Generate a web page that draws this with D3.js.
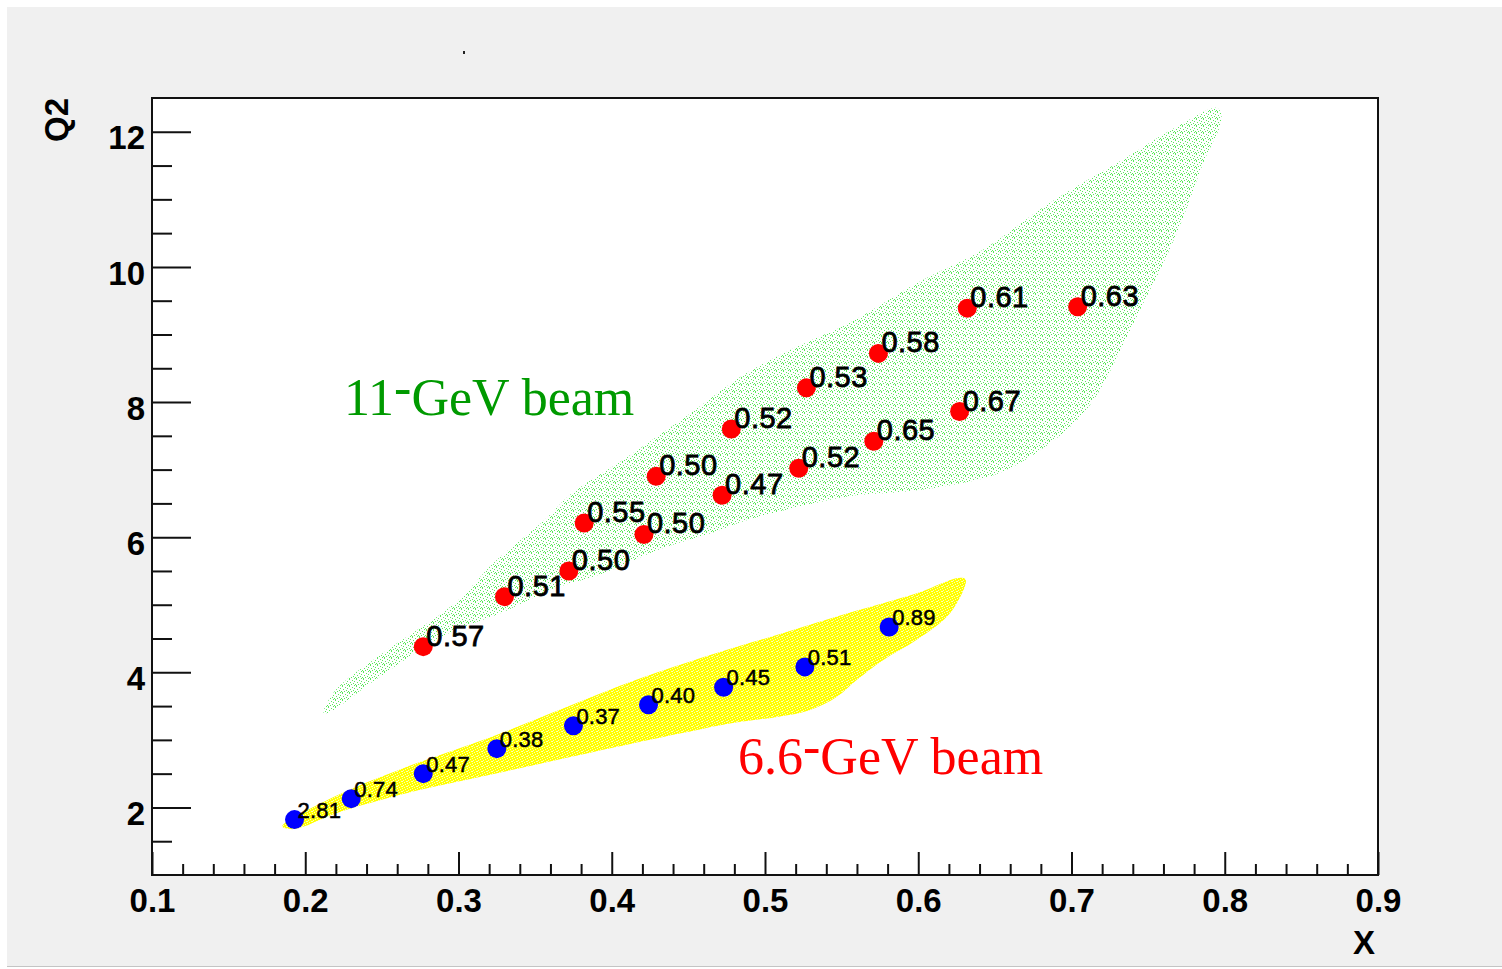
<!DOCTYPE html>
<html>
<head>
<meta charset="utf-8">
<script src="https://d3js.org/d3.v7.min.js"></script>
<style>
  body { margin: 0; background: #fff; }
  .tick text { font-family: "Liberation Sans", Arial, sans-serif; font-weight: bold; font-size: 33px; fill: #000; }
  .tick line { stroke: #111; stroke-width: 2; }
  .axisTitle { font-family: "Liberation Sans", Arial, sans-serif; font-weight: bold; font-size: 33px; fill: #000; }
  .pointLabel { font-family: "Liberation Sans", Arial, sans-serif; fill: #000; stroke: #000; stroke-width: 0.8; letter-spacing: 0.5px; }
  .beamText { font-family: "Liberation Serif", "DejaVu Serif", serif; font-size: 52px; }
</style>
</head>
<body>
<div class="chart"></div>
<script>
// 11 GeV points (red) with their labels
var redX = [0.277, 0.330, 0.372, 0.382, 0.421, 0.429, 0.472, 0.478, 0.522, 0.527, 0.571, 0.574, 0.627, 0.632, 0.704];
var redQ2 = [4.38, 5.12, 5.50, 6.21, 6.04, 6.90, 6.62, 7.60, 7.02, 8.21, 7.42, 8.72, 7.86, 9.39, 9.41];
var redLabels = ["0.57", "0.51", "0.50", "0.55", "0.50", "0.50", "0.47", "0.52", "0.52", "0.53", "0.65", "0.58", "0.67", "0.61", "0.63"];

// 6.6 GeV points (blue) with their labels
var blueX = [0.193, 0.230, 0.277, 0.325, 0.375, 0.424, 0.473, 0.526, 0.581];
var blueQ2 = [1.82, 2.13, 2.50, 2.87, 3.21, 3.52, 3.78, 4.08, 4.67];
var blueLabels = ["2.81", "0.74", "0.47", "0.38", "0.37", "0.40", "0.45", "0.51", "0.89"];

// outline of the 11 GeV acceptance (green cloud)
var greenX = [0.212, 0.220, 0.251, 0.298, 0.323, 0.356, 0.374, 0.407, 0.448, 0.488, 0.523, 0.555, 0.599, 0.642, 0.686, 0.730, 0.773, 0.795,
  0.798, 0.786, 0.773, 0.760, 0.747, 0.734, 0.721, 0.708, 0.686, 0.653, 0.621, 0.588, 0.559,
  0.522, 0.488, 0.465, 0.430, 0.395, 0.360, 0.328, 0.291, 0.244, 0.216];
var greenQ2 = [3.40, 3.74, 4.29, 5.03, 5.62, 6.25, 6.65, 7.14, 7.78, 8.43, 8.84, 9.17, 9.76, 10.25, 10.95, 11.54, 12.13, 12.35,
  12.20, 11.54, 10.74, 10.06, 9.47, 8.87, 8.28, 7.84, 7.39, 6.95, 6.77, 6.67, 6.62,
  6.45, 6.25, 6.06, 5.81, 5.47, 5.22, 4.88, 4.55, 3.86, 3.41];

// outline of the 6.6 GeV acceptance (yellow cloud)
var yellowX = [0.185, 0.221, 0.266, 0.321, 0.371, 0.416, 0.469, 0.512, 0.555, 0.599, 0.627,
  0.631, 0.621, 0.599, 0.577, 0.560, 0.547, 0.529, 0.508, 0.479, 0.446, 0.386, 0.326, 0.266, 0.221, 0.193];
var yellowQ2 = [1.72, 2.18, 2.60, 3.04, 3.49, 3.89, 4.29, 4.58, 4.88, 5.17, 5.40,
  5.37, 4.88, 4.48, 4.18, 3.89, 3.64, 3.44, 3.34, 3.25, 3.10, 2.81, 2.51, 2.21, 1.92, 1.68];

var xTicks = [0.1, 0.2, 0.3, 0.4, 0.5, 0.6, 0.7, 0.8, 0.9];
var xTickLabels = ["0.1", "0.2", "0.3", "0.4", "0.5", "0.6", "0.7", "0.8", "0.9"];
var yTicks = [2, 4, 6, 8, 10, 12];
var yTickLabels = ["2", "4", "6", "8", "10", "12"];

var svgWidth = 1502;
var svgHeight = 969;
var margin = { top: 98, right: 124, bottom: 94, left: 152 };
var width = svgWidth - margin.left - margin.right;
var height = svgHeight - margin.top - margin.bottom;

var root = d3.select(".chart")
  .append("svg")
  .attr("width", svgWidth)
  .attr("height", svgHeight)
  .style("display", "block");

// grey canvas like the ROOT window
root.append("rect")
  .attr("x", 7).attr("y", 7)
  .attr("width", svgWidth - 7).attr("height", 959)
  .attr("fill", "#f0f0f0");
root.append("line")
  .attr("x1", 7).attr("x2", svgWidth)
  .attr("y1", 966.5).attr("y2", 966.5)
  .attr("stroke", "#c4c4c4").attr("stroke-width", 1);
// stray mark of the empty title
root.append("rect")
  .attr("x", 463).attr("y", 51).attr("width", 2).attr("height", 3)
  .attr("fill", "#222");

// speckle patterns for the two acceptance clouds
var defs = root.append("defs");
var gp = defs.append("pattern")
  .attr("id", "greenDots")
  .attr("patternUnits", "userSpaceOnUse")
  .attr("width", 7).attr("height", 7);
[[1, 0], [4, 1], [6, 2], [2, 3], [5, 4], [0, 5], [3, 5], [6, 6], [1, 6]].forEach(function(p) {
  gp.append("rect").attr("x", p[0]).attr("y", p[1]).attr("width", 1).attr("height", 1).attr("fill", "#5ae85a");
});
var yp = defs.append("pattern")
  .attr("id", "yellowDots")
  .attr("patternUnits", "userSpaceOnUse")
  .attr("width", 5).attr("height", 5);
yp.append("rect").attr("width", 5).attr("height", 5).attr("fill", "#ffff00");
[[0, 0], [3, 1], [1, 2], [4, 3], [2, 4], [0, 3]].forEach(function(p) {
  yp.append("rect").attr("x", p[0]).attr("y", p[1]).attr("width", 1).attr("height", 1).attr("fill", "#ffffb0");
});

var svg = root.append("g")
  .attr("transform", "translate(" + margin.left + "," + margin.top + ")");

// plot area
svg.append("rect")
  .attr("width", width)
  .attr("height", height)
  .attr("fill", "#fff");

var xLinearScale = d3.scaleLinear().domain([0.1, 0.9]).range([0, width]);
var yLinearScale = d3.scaleLinear().domain([1, 12.5]).range([height, 0]);

var outline = d3.line()
  .x(function(d) { return xLinearScale(d[0]); })
  .y(function(d) { return yLinearScale(d[1]); })
  .curve(d3.curveCatmullRomClosed);

svg.append("path")
  .datum(greenX.map(function(x, i) { return [x, greenQ2[i]]; }))
  .attr("d", outline)
  .attr("fill", "url(#greenDots)");

svg.append("path")
  .datum(yellowX.map(function(x, i) { return [x, yellowQ2[i]]; }))
  .attr("d", outline)
  .attr("fill", "url(#yellowDots)");

// minor ticks
var xMinor = d3.range(0.12, 0.9, 0.02).filter(function(v) { return Math.abs(v * 10 - Math.round(v * 10)) > 0.01; });
var yMinor = d3.range(1.5, 12.5, 0.5).filter(function(v) { return v % 2 !== 0; });

svg.append("g")
  .attr("transform", "translate(0," + height + ")")
  .call(d3.axisBottom(xLinearScale).tickValues(xMinor).tickSize(-11).tickFormat(""))
  .call(function(g) { g.select(".domain").remove(); });

svg.append("g")
  .call(d3.axisLeft(yLinearScale).tickValues(yMinor).tickSize(-20).tickFormat(""))
  .call(function(g) { g.select(".domain").remove(); });

// major ticks + labels
var bottomAxis = d3.axisBottom(xLinearScale)
  .tickValues(xTicks)
  .tickSize(-23)
  .tickFormat(function(d, i) { return xTickLabels[i]; });
var leftAxis = d3.axisLeft(yLinearScale)
  .tickValues(yTicks)
  .tickSize(-39)
  .tickPadding(7)
  .tickFormat(function(d, i) { return yTickLabels[i]; });

svg.append("g")
  .attr("transform", "translate(0," + height + ")")
  .call(bottomAxis)
  .call(function(g) {
    g.select(".domain").remove();
    g.selectAll("text").attr("y", 37).attr("dy", 0);
  });

svg.append("g")
  .call(leftAxis)
  .call(function(g) {
    g.select(".domain").remove();
    g.selectAll("text").attr("dy", "0.52em");
  });

// frame
svg.append("rect")
  .attr("width", width)
  .attr("height", height)
  .attr("fill", "none")
  .attr("stroke", "#111")
  .attr("stroke-width", 2);

// axis titles
svg.append("text")
  .attr("class", "axisTitle")
  .attr("x", width - 3)
  .attr("y", height + 79)
  .attr("text-anchor", "end")
  .text("X");

svg.append("text")
  .attr("class", "axisTitle")
  .attr("transform", "rotate(-90)")
  .attr("x", 0)
  .attr("y", -84)
  .attr("text-anchor", "end")
  .text("Q2");

// beam labels
var green = svg.append("text")
  .attr("class", "beamText")
  .attr("x", 344 - margin.left)
  .attr("y", 415 - margin.top)
  .attr("fill", "#009a00");
green.append("tspan").text("11");
green.append("tspan").attr("dy", -10).text("-");
green.append("tspan").attr("dy", 10).text("GeV beam");

var red = svg.append("text")
  .attr("class", "beamText")
  .attr("x", 738 - margin.left)
  .attr("y", 774 - margin.top)
  .attr("fill", "#ff0000");
red.append("tspan").text("6.6");
red.append("tspan").attr("dy", -10).text("-");
red.append("tspan").attr("dy", 10).text("GeV beam");

// points
var redPts = redX.map(function(x, i) { return { x: x, y: redQ2[i], label: redLabels[i] }; });
var bluePts = blueX.map(function(x, i) { return { x: x, y: blueQ2[i], label: blueLabels[i] }; });

svg.selectAll(".redDot")
  .data(redPts)
  .enter().append("circle")
    .attr("class", "redDot")
    .attr("cx", function(d) { return xLinearScale(d.x); })
    .attr("cy", function(d) { return yLinearScale(d.y); })
    .attr("r", 9.5)
    .attr("fill", "#ff0000");

svg.selectAll(".blueDot")
  .data(bluePts)
  .enter().append("circle")
    .attr("class", "blueDot")
    .attr("cx", function(d) { return xLinearScale(d.x); })
    .attr("cy", function(d) { return yLinearScale(d.y); })
    .attr("r", 9.5)
    .attr("fill", "#0000ff");

svg.selectAll(".redLabel")
  .data(redPts)
  .enter().append("text")
    .attr("class", "pointLabel")
    .attr("x", function(d) { return xLinearScale(d.x) + 3; })
    .attr("y", function(d) { return yLinearScale(d.y) - 1; })
    .style("font-size", "29px")
    .text(function(d) { return d.label; });

svg.selectAll(".blueLabel")
  .data(bluePts)
  .enter().append("text")
    .attr("class", "pointLabel")
    .attr("x", function(d) { return xLinearScale(d.x) + 3; })
    .attr("y", function(d) { return yLinearScale(d.y) - 2; })
    .style("font-size", "22px")
    .style("stroke-width", 0.5)
    .style("letter-spacing", "0.2px")
    .text(function(d) { return d.label; });
</script>
</body>
</html>
